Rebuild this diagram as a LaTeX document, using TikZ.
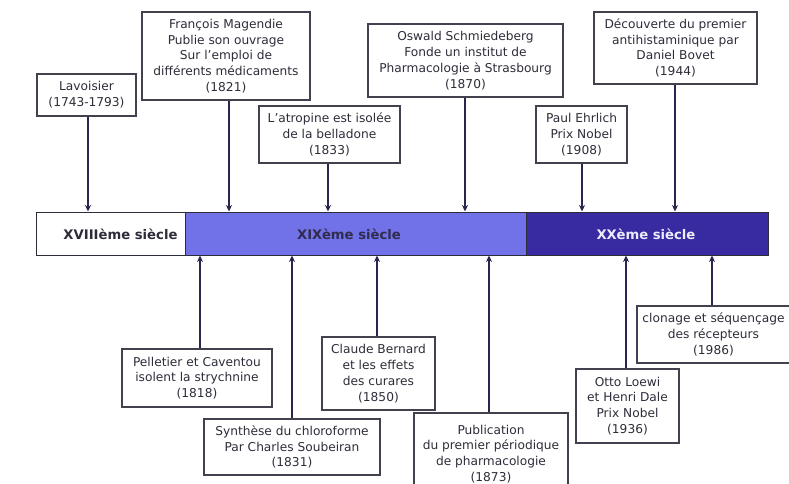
\documentclass[tikz,border=0pt]{standalone}
\usepackage{fontspec}
\setmainfont{DejaVu Sans}
\usetikzlibrary{arrows.meta}
\definecolor{midblue}{RGB}{114,114,232}
\definecolor{deepblue}{RGB}{56,42,160}
\definecolor{ink}{RGB}{45,45,58}
\definecolor{wire}{RGB}{38,38,78}
\definecolor{paleink}{RGB}{236,236,250}
\begin{document}
\begin{tikzpicture}[x=1pt,y=-1pt,
  event/.style={draw=ink!90, line width=1.5pt, fill=white, align=center,
    text=ink, font=\fontsize{12.2}{15.8}\selectfont, inner sep=0pt},
  era/.style={draw=ink, line width=1pt, inner sep=0pt,
    minimum height=43pt},
  eralabel/.style={font=\bfseries\fontsize{13.2}{15}\selectfont, inner sep=0pt},
  link/.style={draw=wire, line width=2pt,
    -{Stealth[length=6.5pt,width=6pt]}}]
\useasboundingbox (0,0) rectangle (789,484);
\clip (0,0) rectangle (789,484);
\fill[white] (0,0) rectangle (789,484);

% the three centuries of the time line
\node[era, fill=white,    minimum width=149pt] (s18) at (110.5,233.5) {};
\node[era, fill=midblue,  minimum width=341pt] (s19) at (355.5,233.5) {};
\node[era, fill=deepblue, minimum width=242pt] (s20) at (647,233.5) {};
\node[eralabel, text=ink]      (l18) at (120.5,234) {XVIIIème siècle};
\node[eralabel, text=ink!80!deepblue] (l19) at (349,234) {XIXème siècle};
\node[eralabel, text=paleink]  (l20) at (646,234) {XXème siècle};

% events above the line
\node[event, minimum width=99pt,  minimum height=42pt] (lav) at (86.5,95)
  {Lavoisier\\(1743-1793)};
\node[event, minimum width=168pt, minimum height=88pt] (mag) at (226,56)
  {François Magendie\\Publie son ouvrage\\Sur l'emploi de\\différents médicaments\\(1821)};
\node[event, minimum width=141pt, minimum height=57pt] (atr) at (329.5,134.5)
  {L'atropine est isolée\\de la belladone\\(1833)};
\node[event, minimum width=195pt, minimum height=73pt] (osw) at (465.5,60.5)
  {Oswald Schmiedeberg\\Fonde un institut de\\Pharmacologie à Strasbourg\\(1870)};
\node[event, minimum width=91pt,  minimum height=57pt] (ehr) at (581.5,134.5)
  {Paul Ehrlich\\Prix Nobel\\(1908)};
\node[event, minimum width=163pt, minimum height=72pt] (bov) at (675.5,48)
  {Découverte du premier\\antihistaminique par\\Daniel Bovet\\(1944)};

% events below the line
\node[event, minimum width=150pt, minimum height=58pt] (pel) at (197,378)
  {Pelletier et Caventou\\isolent la strychnine\\(1818)};
\node[event, minimum width=176pt, minimum height=56pt] (chl) at (292,447)
  {Synthèse du chloroforme\\Par Charles Soubeiran\\(1831)};
\node[event, minimum width=113pt, minimum height=73pt] (ber) at (378.5,373.5)
  {Claude Bernard\\et les effets\\des curares\\(1850)};
\node[event, minimum width=154pt, minimum height=82pt] (pub) at (491,454)
  {Publication\\du premier périodique\\de pharmacologie\\(1873)};
\node[event, minimum width=103pt, minimum height=74pt] (loe) at (627.5,406)
  {Otto Loewi\\et Henri Dale\\Prix Nobel\\(1936)};
\node[event, minimum width=153pt, minimum height=57pt] (clo) at (713.5,334.5)
  {clonage et séquençage\\des récepteurs\\(1986)};

% connectors from each event to the time line
\draw[link] ([xshift=1.5pt]lav.south) -- ([xshift=1.5pt]lav.south |- s18.north);
\draw[link] ([xshift=3pt]mag.south) -- ([xshift=3pt]mag.south |- s19.north);
\draw[link] ([xshift=-1.5pt]atr.south) -- ([xshift=-1.5pt]atr.south |- s19.north);
\draw[link] ([xshift=-0.5pt]osw.south) -- ([xshift=-0.5pt]osw.south |- s19.north);
\draw[link] ([xshift=0.5pt]ehr.south) -- ([xshift=0.5pt]ehr.south |- s20.north);
\draw[link] ([xshift=-0.5pt]bov.south) -- ([xshift=-0.5pt]bov.south |- s20.north);
\draw[link] ([xshift=3pt]pel.north) -- ([xshift=3pt]pel.north |- s19.south);
\draw[link] (chl.north) -- (chl.north |- s19.south);
\draw[link] ([xshift=-1.5pt]ber.north) -- ([xshift=-1.5pt]ber.north |- s19.south);
\draw[link] ([xshift=-2pt]pub.north) -- ([xshift=-2pt]pub.north |- s19.south);
\draw[link] ([xshift=-1.5pt]loe.north) -- ([xshift=-1.5pt]loe.north |- s20.south);
\draw[link] ([xshift=-1.5pt]clo.north) -- ([xshift=-1.5pt]clo.north |- s20.south);
\end{tikzpicture}
\end{document}
